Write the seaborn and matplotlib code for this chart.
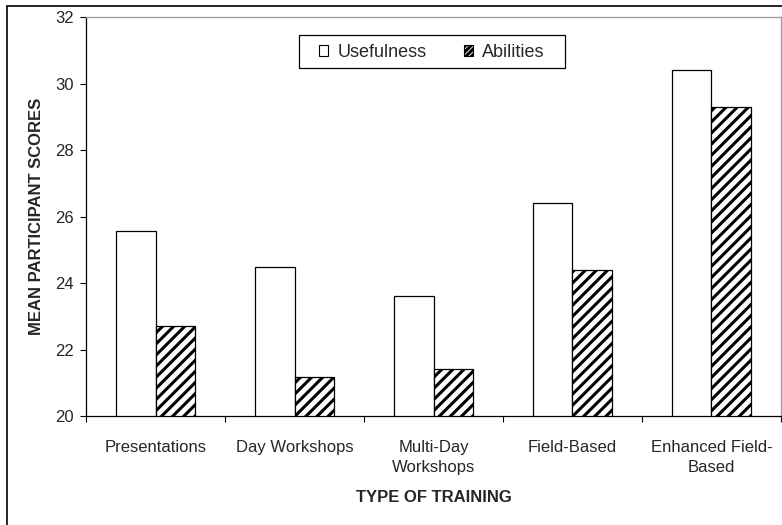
import pandas as pd
import matplotlib.pyplot as plt
import seaborn as sns
from matplotlib.patches import Rectangle

categories = ['Presentations', 'Day Workshops', 'Multi-Day\nWorkshops',
              'Field-Based', 'Enhanced Field-\nBased']
usefulness = [25.55, 24.47, 23.6, 26.42, 30.4]
abilities = [22.7, 21.17, 21.42, 24.4, 29.3]

df = pd.DataFrame({
    'Type': categories * 2,
    'Score': usefulness + abilities,
    'Measure': ['Usefulness'] * 5 + ['Abilities'] * 5,
})

sns.set_theme(style='white')
plt.rcParams['font.family'] = ['Liberation Sans', 'DejaVu Sans']
plt.rcParams['hatch.linewidth'] = 2.2
plt.rcParams['hatch.color'] = 'black'

fig = plt.figure(figsize=(7.82, 5.25), dpi=100)
ax = fig.add_axes([0.110, 0.2076, 0.8887, 0.76])

sns.barplot(data=df, x='Type', y='Score', hue='Measure', ax=ax,
            palette=['white', 'white'], edgecolor='black', linewidth=0.9,
            width=0.57, gap=0, saturation=1)

# hatch the Abilities bars
for bar in ax.containers[1]:
    bar.set_hatch('///')

ax.set_ylim(20, 32)
ax.set_xlim(-0.5, 4.5)
ax.set_yticks(range(20, 33, 2))
ax.tick_params(axis='y', direction='out', length=4.5, width=0.8, labelsize=12,
               pad=4, left=True, color='black')
ax.set_xticks(range(5))
ax.set_xticklabels(categories, fontsize=12, linespacing=1.45)
ax.set_xticks([i - 0.5 for i in range(6)], minor=True)
ax.tick_params(axis='x', which='major', length=0, pad=17)
ax.tick_params(axis='x', which='minor', direction='out', length=4.5, width=0.8,
               bottom=True, color='black')

for s in ['left', 'bottom']:
    ax.spines[s].set_color('black')
    ax.spines[s].set_linewidth(0.9)
for s in ['top', 'right']:
    ax.spines[s].set_color('#a0a0a0')
    ax.spines[s].set_linewidth(1.0)

ax.set_xlabel('TYPE OF TRAINING', fontsize=12, fontweight='bold', labelpad=11)
ax.set_ylabel('MEAN PARTICIPANT SCORES', fontsize=12, fontweight='bold', labelpad=8)

# legend box drawn separately so it can be wider than the entries
ax.add_patch(Rectangle((0.3065, 0.872), 0.3827, 0.083, transform=ax.transAxes,
                       facecolor='white', edgecolor='black', linewidth=0.9,
                       zorder=4))
leg = ax.legend(loc='center', bbox_to_anchor=(0.498, 0.911), ncol=2,
                fontsize=13, frameon=False,
                handlelength=0.5, handleheight=0.5, columnspacing=2.1,
                handletextpad=0.5, borderpad=0.3)
leg.set_zorder(5)
for h in leg.legend_handles:
    h.set_linewidth(0.8)
leg.legend_handles[1].set_hatch('//////')

# outer chart frame
fig.patches.append(Rectangle((7 / 782, -0.1), 1.2, 1.1 - 6 / 525,
                             transform=fig.transFigure, fill=False,
                             edgecolor='black', linewidth=1.2))

plt.savefig('out.png', dpi=100)
